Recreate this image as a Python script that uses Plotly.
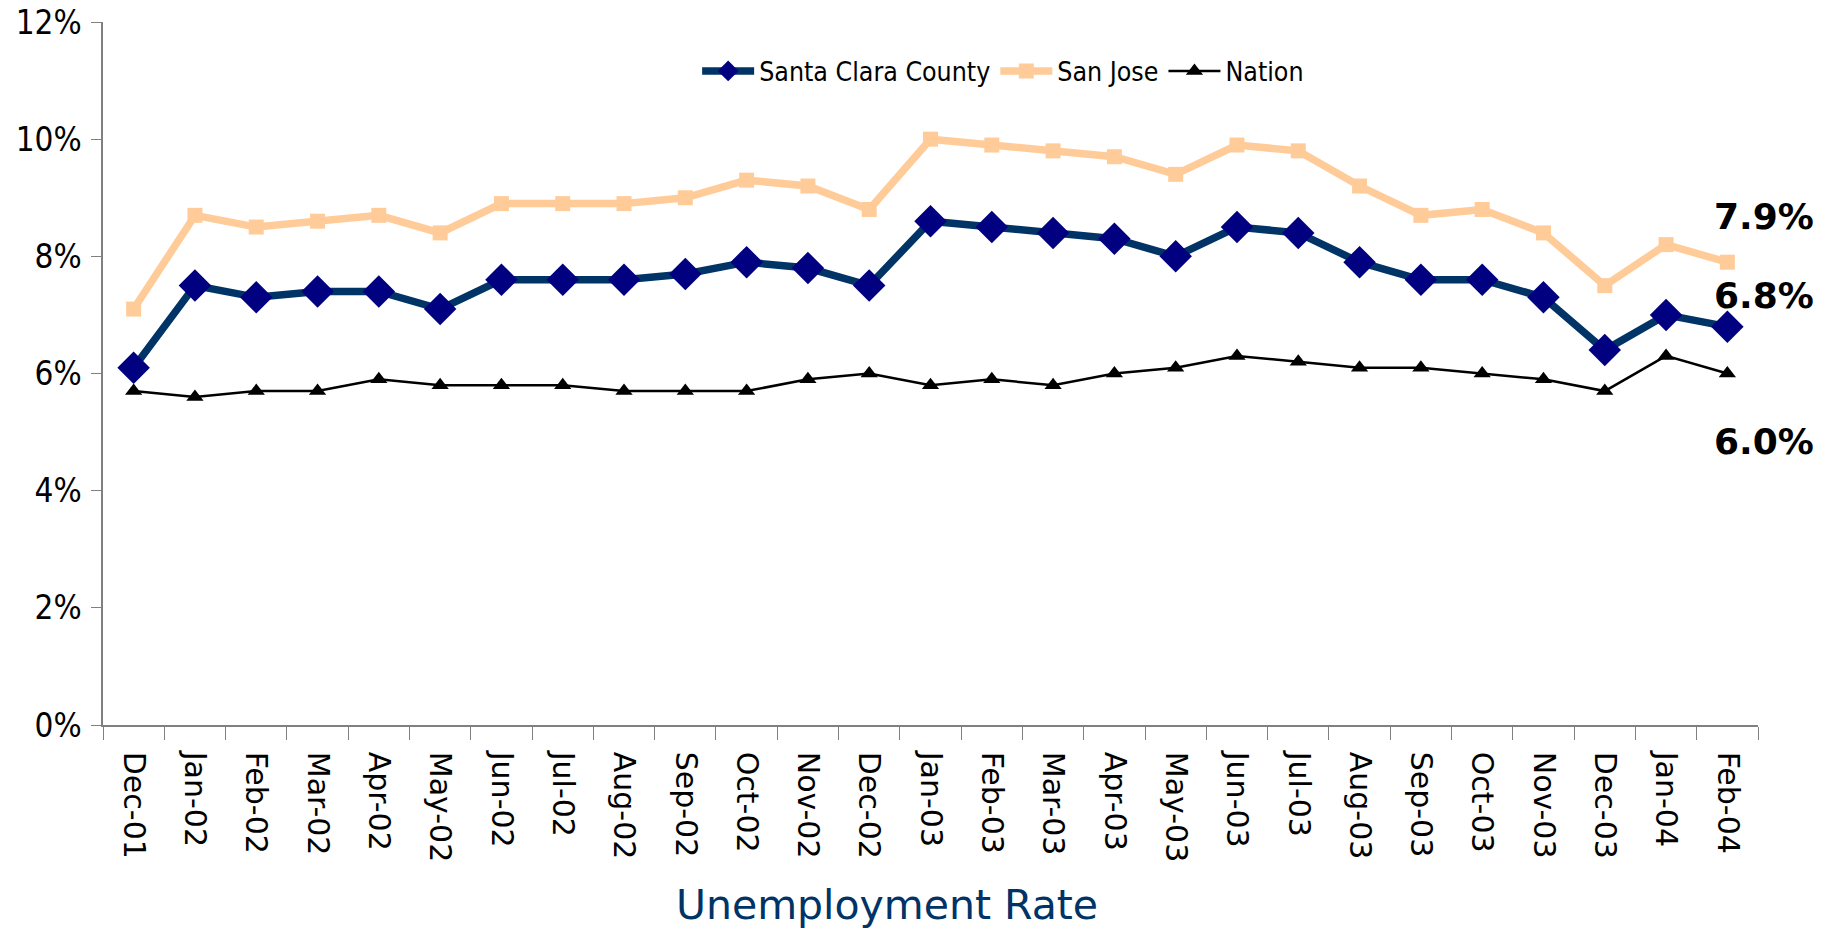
import plotly.graph_objects as go

months = ["Dec-01", "Jan-02", "Feb-02", "Mar-02", "Apr-02", "May-02", "Jun-02", "Jul-02", "Aug-02",
          "Sep-02", "Oct-02", "Nov-02", "Dec-02", "Jan-03", "Feb-03", "Mar-03", "Apr-03", "May-03",
          "Jun-03", "Jul-03", "Aug-03", "Sep-03", "Oct-03", "Nov-03", "Dec-03", "Jan-04", "Feb-04"]
santa_clara = [6.1, 7.5, 7.3, 7.4, 7.4, 7.1, 7.6, 7.6, 7.6, 7.7, 7.9, 7.8, 7.5, 8.6, 8.5, 8.4, 8.3, 8.0,
               8.5, 8.4, 7.9, 7.6, 7.6, 7.3, 6.4, 7.0, 6.8]
san_jose = [7.1, 8.7, 8.5, 8.6, 8.7, 8.4, 8.9, 8.9, 8.9, 9.0, 9.3, 9.2, 8.8, 10.0, 9.9, 9.8, 9.7, 9.4,
            9.9, 9.8, 9.2, 8.7, 8.8, 8.4, 7.5, 8.2, 7.9]
nation = [5.7, 5.6, 5.7, 5.7, 5.9, 5.8, 5.8, 5.8, 5.7, 5.7, 5.7, 5.9, 6.0, 5.8, 5.9, 5.8, 6.0, 6.1,
          6.3, 6.2, 6.1, 6.1, 6.0, 5.9, 5.7, 6.3, 6.0]

def frac(v):
    return [x / 100 for x in v]

fig = go.Figure()
fig.add_trace(go.Scatter(x=months, y=frac(santa_clara), name="Santa Clara County", mode="lines+markers",
                         line=dict(color="#003366", width=7.5),
                         marker=dict(symbol="diamond", size=25, color="#000080")))
fig.add_trace(go.Scatter(x=months, y=frac(san_jose), name="San Jose", mode="lines+markers",
                         line=dict(color="#FFCC99", width=7.5),
                         marker=dict(symbol="square", size=15, color="#FFCC99")))
fig.add_trace(go.Scatter(x=months, y=frac(nation), name="Nation", mode="lines+markers",
                         line=dict(color="#000000", width=2.5),
                         marker=dict(symbol="triangle-up", size=15, color="#000000")))

label_font = dict(family="DejaVu Sans, Verdana, sans-serif", size=36, color="black")
labels = [(san_jose[-1], 46), (santa_clara[-1], 31), (nation[-1], -68)]
for val, shift in labels:
    fig.add_annotation(x=1.0, xref="paper", y=val / 100, yref="y", text=f"<b>{val:.1f}%</b>",
                       showarrow=False, xanchor="left", xshift=-46, yshift=shift, font=label_font)

fig.update_layout(
    width=1827, height=937,
    paper_bgcolor="white", plot_bgcolor="white",
    margin=dict(l=103, r=69, t=22, b=212, autoexpand=False),
    showlegend=True,
    legend=dict(orientation="h", x=0.359, y=0.93, xanchor="left", yanchor="middle",
                font=dict(family="DejaVu Sans Condensed, sans-serif", size=26.5, color="black"),
                bgcolor="rgba(0,0,0,0)", tracegroupgap=0, itemwidth=52),
    title=dict(text="Unemployment Rate", x=0.4855, xanchor="center", y=0.035, yanchor="middle",
               font=dict(family="DejaVu Sans, Verdana, sans-serif", size=41, color="#003366")),
)
fig.update_xaxes(type="category", range=[-0.5, 26.5], tickangle=90, tickson="boundaries",
                 ticks="outside", ticklen=13, tickcolor="#808080", showline=True, linecolor="#808080",
                 linewidth=1.5, showgrid=False, zeroline=False, automargin=False, ticklabelstandoff=19,
                 ticklabeloverflow="allow",
                 tickfont=dict(family="DejaVu Sans, Verdana, sans-serif", size=30, color="black"))
fig.update_yaxes(range=[0, 0.12], dtick=0.02, tickformat=".0%", ticks="outside", ticklen=10,
                 tickcolor="#808080", showline=True, linecolor="#808080", linewidth=1.5,
                 showgrid=False, zeroline=False, automargin=False, ticklabelstandoff=3,
                 ticklabeloverflow="allow",
                 tickfont=dict(family="DejaVu Sans Condensed, sans-serif", size=33, color="black"))

fig.write_html("out.html", config={"displayModeBar": False},
               post_script="document.body.style.margin='0';")
